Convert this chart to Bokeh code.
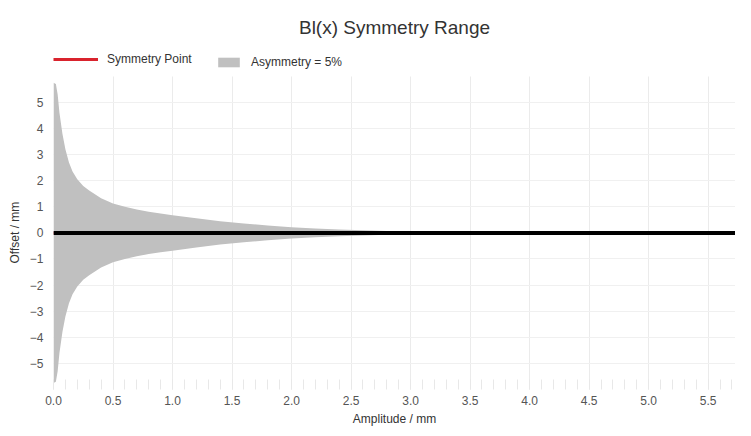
from bokeh.plotting import figure
from bokeh.models import Range1d, FixedTicker, Legend, LegendItem, NumeralTickFormatter, Title
from bokeh.embed import file_html
from bokeh.resources import INLINE

# ---- data ----
amplitude = [0.0, 0.02, 0.035, 0.05, 0.075, 0.1, 0.13, 0.16, 0.2, 0.25, 0.3, 0.4, 0.5,
             0.6, 0.7, 0.8, 0.9, 1.0, 1.2, 1.4, 1.6, 1.8, 2.0, 2.2, 2.4, 2.6, 2.8,
             3.0, 3.3, 3.6, 4.0, 5.0, 5.8]
offset_upper = [5.75, 5.7, 5.3, 4.6, 3.8, 3.2, 2.7, 2.35, 2.05, 1.8, 1.62, 1.33, 1.13,
                1.0, 0.9, 0.81, 0.74, 0.68, 0.56, 0.45, 0.36, 0.28, 0.22, 0.17, 0.13,
                0.10, 0.07, 0.05, 0.03, 0.02, 0.01, 0.005, 0.003]
offset_lower = [-5.75, -5.7, -5.3, -4.6, -3.8, -3.2, -2.7, -2.35, -2.05, -1.8, -1.62, -1.33, -1.13,
                -1.0, -0.9, -0.81, -0.74, -0.68, -0.56, -0.45, -0.36, -0.28, -0.22, -0.17, -0.13,
                -0.10, -0.07, -0.05, -0.03, -0.02, -0.01, -0.005, -0.003]
symmetry_x = [0.0, 5.8]
symmetry_y = [0.0, 0.0]

x_ticks = [0.0, 0.5, 1.0, 1.5, 2.0, 2.5, 3.0, 3.5, 4.0, 4.5, 5.0, 5.5]
x_minor_ticks = [round(i * 0.1, 1) for i in range(0, 58)]
y_ticks = [-5, -4, -3, -2, -1, 0, 1, 2, 3, 4, 5]
y_plot_bounds = (-6, 6)

FONT = "Liberation Sans"

p = figure(width=735, height=428, output_backend="svg", toolbar_location=None,
           x_range=Range1d(0, 5.73), y_range=Range1d(-6, 6.91),
           min_border_left=45, min_border_right=0, min_border_top=48,
           min_border_bottom=0, background_fill_color="white",
           border_fill_color="white")
p.outline_line_color = None

p.title.text = "Bl(x) Symmetry Range"
p.title.align = "center"
p.title.text_font = FONT
p.title.text_font_size = "19px"
p.title.text_font_style = "normal"
p.title.text_color = "#333333"
p.title.standoff = 29

area = p.varea(x=amplitude, y1=offset_lower, y2=offset_upper,
               fill_color="#c0c0c0", fill_alpha=1.0)
red = p.line(x=symmetry_x, y=symmetry_y, line_color="#d9232d", line_width=3)
p.line(x=symmetry_x, y=symmetry_y, line_color="black", line_width=4)

# axes
for ax in (p.xaxis[0], p.yaxis[0]):
    ax.axis_line_color = None
    ax.major_label_text_font = FONT
    ax.major_label_text_font_size = "12px"
    ax.major_label_text_color = "#555555"
    ax.axis_label_text_font = FONT
    ax.axis_label_text_font_size = "12px"
    ax.axis_label_text_font_style = "normal"
    ax.axis_label_text_color = "#333333"

p.xaxis.axis_label = "Amplitude / mm"
p.xaxis.ticker = FixedTicker(ticks=x_ticks, minor_ticks=x_minor_ticks)
p.xaxis.major_tick_in = 10
p.xaxis.major_tick_out = 0
p.xaxis.minor_tick_in = 10
p.xaxis.minor_tick_out = 0
p.xaxis.major_tick_line_color = "#e8e8e8"
p.xaxis.minor_tick_line_color = "#e8e8e8"
p.xaxis.major_label_standoff = 6
p.xaxis.axis_label_standoff = 4
p.xaxis.formatter = NumeralTickFormatter(format="0.0")

p.yaxis.ticker = FixedTicker(ticks=y_ticks)
p.yaxis.major_tick_line_color = None
p.yaxis.minor_tick_line_color = None
p.yaxis.major_tick_in = 0
p.yaxis.major_tick_out = 0
p.yaxis.major_label_standoff = 10

ylab = Title(text="Offset / mm", align="left", offset=126, standoff=10,
             text_font=FONT, text_font_size="12px", text_font_style="normal",
             text_color="#333333")
p.add_layout(ylab, "left")

p.xgrid.ticker = FixedTicker(ticks=x_ticks)
p.ygrid.ticker = FixedTicker(ticks=y_ticks)
p.xgrid.cross_bounds = y_plot_bounds
p.xgrid.grid_line_color = "#ebebeb"
p.ygrid.grid_line_color = "#f0f0f0"

leg_y = 320
leg1 = Legend(items=[LegendItem(label="Symmetry Point", renderers=[red])],
              location=(0, leg_y), orientation="horizontal",
              glyph_width=45, glyph_height=20, label_standoff=9,
              padding=0, margin=0, border_line_color=None,
              background_fill_alpha=0, label_text_font=FONT,
              label_text_font_size="12px", label_text_color="#333333")
leg2 = Legend(items=[LegendItem(label="Asymmetry = 5%", renderers=[area])],
              location=(162, leg_y), orientation="horizontal",
              glyph_width=27, glyph_height=12, label_standoff=9,
              padding=0, margin=0, border_line_color=None,
              background_fill_alpha=0, label_text_font=FONT,
              label_text_font_size="12px", label_text_color="#333333")
p.add_layout(leg1, "center")
p.add_layout(leg2, "center")

open("out.html", "w").write(file_html(p, INLINE))
